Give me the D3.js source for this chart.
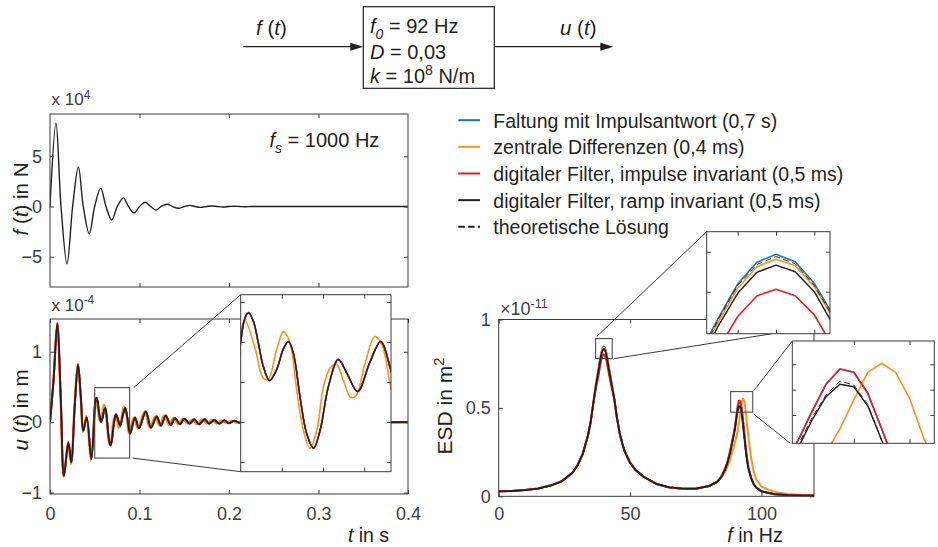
<!DOCTYPE html>
<html><head><meta charset="utf-8">
<script src="https://cdn.jsdelivr.net/npm/d3@7"></script>
<style>
body{margin:0;background:#fff;}
svg{font-family:"Liberation Sans",Arial,sans-serif;}
text{white-space:pre;}
</style></head><body>
<svg id="c" width="938" height="547"></svg>
<script>
// ---------------- DATA ----------------
// excitation force f(t), x 10^4 N
const forceT = [0,0.0067,0.0123,0.019,0.0253,0.0317,0.0372,0.0439,0.0499,0.0566,0.0626,0.0689,0.0752,0.0819,0.0877,0.0939,0.1,0.1065,0.1125,0.1184,0.124,0.131,0.137,0.1434,0.15,0.1564,0.162,0.168,0.175,0.181,0.187,0.193,0.2,0.206,0.212,0.218,0.225,0.235,0.4];
const forceV = [0,8.3,0,-5.7,0,3.93,0,-2.7,0,1.83,0,-1.34,0,0.86,0,-0.64,0,0.43,0,-0.34,0,0.23,0,-0.17,0,0.12,0,-0.085,0,0.06,0,-0.04,0,0.03,0,-0.02,0,0,0];

// response u(t), x 10^-4 m : filters / convolution / theory (coincide)
const uT = [0,0.004,0.0082,0.012,0.0156,0.0205,0.0238,0.0275,0.0313,0.0345,0.0372,0.041,0.0462,0.05,0.051,0.0519,0.0531,0.0543,0.0555,0.057,0.0587,0.0604,0.0616,0.0628,0.0644,0.066,0.0677,0.0693,0.0713,0.0737,0.0758,0.0784,0.0814,0.084,0.0865,0.0895,0.095,0.0994,0.107,0.1128,0.1192,0.124,0.1293,0.1348,0.1397,0.1453,0.15,0.156,0.1612,0.1665,0.1725,0.1777,0.1836,0.189,0.1947,0.2,0.2059,0.212,0.217,0.223,0.23,0.24,0.4];
const uV = [0,0.6,1.40,0.35,-0.76,-0.29,-0.57,0.2,0.82,0.35,-0.12,0.07,-0.52,0.20,0.318,0.347,0.302,0.193,0.077,0.007,0.06,0.168,0.202,0.143,-0.073,-0.257,-0.332,-0.24,-0.023,0.113,0.043,-0.048,0.10,0.202,0.057,-0.16,0.065,-0.085,0.15,-0.077,0.08,-0.048,0.094,-0.04,0.057,-0.028,0.047,-0.02,0.04,-0.03,0.04,-0.02,0.03,-0.02,0.025,-0.015,0.02,-0.01,0.012,-0.008,0.005,0,0];
// central differences
const uTcd = [0,0.0037,0.0079,0.0116,0.0152,0.0201,0.0234,0.0271,0.0309,0.0341,0.0367,0.0405,0.0457,0.05,0.051,0.0535,0.0555,0.0567,0.0587,0.0604,0.062,0.0636,0.0652,0.0668,0.0685,0.0701,0.0717,0.0732,0.0749,0.0767,0.078,0.0802,0.0826,0.0843,0.0865,0.0883,0.0937,0.0981,0.1056,0.1113,0.1176,0.1223,0.1275,0.1329,0.1377,0.1432,0.1478,0.1537,0.1588,0.164,0.1699,0.175,0.1808,0.186,0.1917,0.1968,0.2026,0.2086,0.2135,0.22,0.227,0.237,0.4];
const uVcd = [0,0.6,1.41,0.35,-0.78,-0.27,-0.60,0.2,0.83,0.35,-0.14,0.09,-0.55,0.243,0.31,0.168,0.018,0.013,0.16,0.252,0.193,-0.04,-0.24,-0.332,-0.24,-0.023,0.068,0.09,0.01,-0.077,-0.07,0.093,0.227,0.185,-0.032,-0.16,0.07,-0.09,0.15,-0.08,0.085,-0.05,0.095,-0.042,0.06,-0.03,0.05,-0.022,0.042,-0.03,0.04,-0.022,0.032,-0.02,0.026,-0.015,0.02,-0.01,0.012,-0.008,0.005,0,0];

// ESD, x 10^-11 m^2 : shared parts
const esdLowF = [0,5,10,15,20,24,28,30,32,34,35,36];
const esdLowV = [0.028,0.030,0.035,0.044,0.062,0.085,0.132,0.175,0.24,0.345,0.42,0.525];
const esdMidF = [44,45,46,47,48,50,52,55,60,65,70,75,80,83];
const esdMidV = [0.55,0.445,0.36,0.30,0.252,0.19,0.15,0.112,0.07,0.05,0.043,0.043,0.058,0.08];
const esdTailF = [105,110,115,120];
const esdTailV = [0.012,0.007,0.005,0.004];
// first peak (per series)
const peakAF = [37,38,38.5,39,39.5,40,40.5,41,41.5,42,43];
const peakABlue   = [0.635,0.722,0.7675,0.8096,0.8367,0.8467,0.8375,0.8105,0.77,0.725,0.64];
const peakAOrange = [0.632,0.717,0.763,0.8042,0.8313,0.8405,0.8325,0.8063,0.766,0.72,0.637];
const peakARed    = [0.61,0.685,0.729,0.769,0.7946,0.803,0.795,0.771,0.73,0.688,0.615];
const peakABlack  = [0.628,0.71,0.758,0.798,0.8242,0.8333,0.825,0.80,0.758,0.712,0.632];
const peakATheory = [0.632,0.717,0.766,0.8076,0.834,0.844,0.835,0.808,0.767,0.72,0.637];
// second peak (per series)
const peakBF = [84,85,86,87,88,89,89.5,90,90.5,91,91.5,92,92.5,93,93.5,94,94.5,95,96,97,98,100];
const peakBBlue   = [0.097,0.118,0.15,0.19,0.25,0.32,0.355,0.40,0.457,0.5105,0.5407,0.5342,0.4927,0.4227,0.35,0.275,0.215,0.165,0.107,0.071,0.05,0.028];
const peakBOrange = [0.095,0.112,0.135,0.165,0.205,0.255,0.28,0.31,0.34,0.375,0.4223,0.4797,0.534,0.552,0.534,0.483,0.406,0.34,0.225,0.14,0.095,0.055];
const peakBRed    = [0.097,0.118,0.15,0.19,0.25,0.32,0.355,0.40,0.457,0.5105,0.5407,0.5342,0.4927,0.4227,0.35,0.275,0.215,0.165,0.107,0.071,0.05,0.028];
const peakBBlack  = [0.095,0.115,0.145,0.185,0.24,0.31,0.345,0.385,0.44,0.486,0.5105,0.5057,0.468,0.40,0.33,0.26,0.205,0.16,0.105,0.07,0.05,0.028];
const peakBTheory = [0.095,0.115,0.145,0.185,0.24,0.31,0.35,0.39,0.445,0.4893,0.517,0.509,0.471,0.40,0.33,0.26,0.205,0.16,0.105,0.07,0.05,0.028];
const orangeTailF = [103,105,110,115,120];
const orangeTailV = [0.035,0.025,0.013,0.009,0.007];

// zoom windows (data coordinates)
const uZoomT = [0.05,0.089], uZoomV = [-0.51,0.49];
const uInsetT = [0.05,0.0865], uInsetV = [-0.449,0.4365];
const esdZoomAF = [36.9,43.2], esdZoomAV = [0.779,0.892];
const esdInsetAF = [38.19,41.41], esdInsetAV = [0.7475,0.875];
const esdZoomBF = [88.3,96.7], esdZoomBV = [0.476,0.592];
const esdInsetBF = [89.79,94.89], esdInsetBV = [0.394,0.596];

// ticks
const tTicks = [0,0.1,0.2,0.3,0.4];
const fTicks = [-5,0,5];
const uTicks = [-1,0,1];
const esdFTicks = [0,50,100];
const esdVTicks = [0,0.5,1];
const legendLabels = ["Faltung mit Impulsantwort (0,7 s)","zentrale Differenzen (0,4 ms)","digitaler Filter, impulse invariant (0,5 ms)","digitaler Filter, ramp invariant (0,5 ms)","theoretische Lösung"];

// ---------------- DRAW ----------------
const svg = d3.select("#c");
const INK = "#231f20", AX = "#3a3a3a", TK = "#3d3d3d";
const COL = {blue:"#1c75bc", orange:"#f7941d", red:"#e31e24", black:"#231f20"};
const defs = svg.append("defs");
let clipN = 0;

function rich(parent, x, y, parts, size, o = {}) {
  const t = parent.append("text").attr("x", x).attr("y", y).attr("font-size", size).attr("fill", o.fill || INK);
  if (o.anchor) t.attr("text-anchor", o.anchor);
  if (o.transform) t.attr("transform", o.transform);
  let shift = 0;
  parts.forEach(p => {
    const ts = t.append("tspan").text(p.t);
    const target = p.sub ? size * 0.3 : p.sup ? -size * 0.38 : 0;
    if (target !== shift) { ts.attr("dy", target - shift); shift = target; }
    if (p.sub || p.sup) ts.attr("font-size", size * 0.7);
    if (p.i) ts.attr("font-style", "italic");
  });
  return t;
}

function clipFor(x, y) {
  const id = "clip" + (clipN++);
  const [x0, x1] = x.range(), [y0, y1] = y.range();
  defs.append("clipPath").attr("id", id).append("rect")
    .attr("x", x0).attr("y", y1).attr("width", x1 - x0).attr("height", y0 - y1);
  return "url(#" + id + ")";
}

function frame(g, x, y, xt, yt, o = {}) {
  const [x0, x1] = x.range(), [y0, y1] = y.range();
  const style = s => {
    s.select(".domain").remove();
    s.selectAll(".tick line").attr("stroke", AX).attr("stroke-width", 1);
    s.selectAll("text").attr("font-size", 18).attr("fill", TK).attr("font-family", null);
    s.attr("font-family", null);
  };
  g.append("g").attr("transform", `translate(0,${y0})`)
    .call(d3.axisBottom(x).tickValues(xt).tickSizeInner(-4).tickSizeOuter(0).tickPadding(o.xpad || 13).tickFormat(o.xfmt || (() => ""))).call(style);
  g.append("g").attr("transform", `translate(0,${y1})`)
    .call(d3.axisTop(x).tickValues(xt).tickSizeInner(-4).tickSizeOuter(0).tickFormat(() => "")).call(style);
  g.append("g").attr("transform", `translate(${x0},0)`)
    .call(d3.axisLeft(y).tickValues(yt).tickSizeInner(-4).tickSizeOuter(0).tickPadding(8).tickFormat(o.yfmt || (() => ""))).call(style);
  g.append("g").attr("transform", `translate(${x1},0)`)
    .call(d3.axisRight(y).tickValues(yt).tickSizeInner(-4).tickSizeOuter(0).tickFormat(() => "")).call(style);
  g.append("rect").attr("x", x0).attr("y", y1).attr("width", x1 - x0).attr("height", y0 - y1)
    .attr("fill", "none").attr("stroke", AX).attr("stroke-width", 1);
}

function pairs(a, b) { return a.map((v, i) => [v, b[i]]); }
function cat(...segs) { return [].concat(...segs); }

// ---------- block diagram ----------
const bd = svg.append("g");
bd.append("rect").attr("x", 363.3).attr("y", 6.7).attr("width", 131).attr("height", 81.6)
  .attr("fill", "none").attr("stroke", INK).attr("stroke-width", 1.2);
function arrow(xa, xb, yy) {
  bd.append("line").attr("x1", xa).attr("x2", xb - 10).attr("y1", yy).attr("y2", yy).attr("stroke", INK).attr("stroke-width", 1.2);
  bd.append("path").attr("d", `M${xb},${yy} L${xb - 13},${yy - 4} L${xb - 13},${yy + 4} Z`).attr("fill", INK);
}
arrow(243.3, 363.3, 46.7);
arrow(494.3, 613.3, 46.7);
rich(bd, 256, 35, [{t:"f", i:1}, {t:" ("}, {t:"t", i:1}, {t:")"}], 20.5);
rich(bd, 560, 35, [{t:"u", i:1}, {t:" ("}, {t:"t", i:1}, {t:")"}], 20.5);
rich(bd, 370, 32.5, [{t:"f", i:1}, {t:"0", i:1, sub:1}, {t:" = 92 Hz"}], 20);
rich(bd, 370, 58.5, [{t:"D", i:1}, {t:" = 0,03"}], 20);
rich(bd, 370, 82.5, [{t:"k", i:1}, {t:" = 10"}, {t:"8", sup:1}, {t:" N/m"}], 20);

// ---------- top-left: f(t) ----------
const xT = d3.scaleLinear([0, 0.4], [50, 408]);
const yF = d3.scaleLinear([-8, 9.2], [287, 114]);
const gF = svg.append("g");
gF.append("path").datum(pairs(forceT, forceV)).attr("clip-path", clipFor(xT, yF))
  .attr("d", d3.line().x(d => xT(d[0])).y(d => yF(d[1])).curve(d3.curveCatmullRom.alpha(0.5)))
  .attr("fill", "none").attr("stroke", INK).attr("stroke-width", 1.4);
frame(gF, xT, yF, [0.1, 0.2, 0.3], fTicks, {yfmt: d3.format("d")});
rich(gF, 51.5, 105, [{t:"x 10"}, {t:"4", sup:1}], 17, {fill: TK});
rich(gF, 269.5, 146.7, [{t:"f", i:1}, {t:"s", i:1, sub:1}, {t:" = 1000 Hz"}], 20);
rich(gF, 0, 0, [{t:"f", i:1}, {t:" ("}, {t:"t", i:1}, {t:") in N"}], 20.5, {anchor:"middle", transform:"translate(28,199) rotate(-90)"});

// ---------- bottom-left: u(t) ----------
const yU = d3.scaleLinear([-1.02, 1.465], [494, 319]);
const gU = svg.append("g");
const uClip = clipFor(xT, yU);
function drawU(g, x, y, clip, w) {
  const ln = d3.line().x(d => x(d[0])).y(d => y(d[1])).curve(d3.curveCatmullRom.alpha(0.5));
  const main = pairs(uT, uV), cd = pairs(uTcd, uVcd);
  [[main, COL.blue, w], [cd, COL.orange, w], [main, COL.red, w], [main, COL.black, w * 0.85]].forEach(([d, c, sw]) => {
    g.append("path").datum(d).attr("clip-path", clip).attr("d", ln)
      .attr("fill", "none").attr("stroke", c).attr("stroke-width", sw).attr("stroke-linejoin", "round");
  });
}
drawU(gU, xT, yU, uClip, 2);
frame(gU, xT, yU, tTicks, uTicks, {xfmt: d => d === 0 ? "0" : d3.format(".1f")(d), yfmt: d3.format("d"), xpad: 13});
rich(gU, 51.5, 310.7, [{t:"x 10"}, {t:"-4", sup:1}], 17, {fill: TK});
rich(gU, 0, 0, [{t:"u", i:1}, {t:" ("}, {t:"t", i:1}, {t:") in m"}], 20.5, {anchor:"middle", transform:"translate(28,410) rotate(-90)"});
rich(gU, 368.5, 542, [{t:"t", i:1}, {t:" in s"}], 19.5, {anchor:"middle"});

// zoom rectangle and connectors
gU.append("rect").attr("x", xT(uZoomT[0])).attr("y", yU(uZoomV[1]))
  .attr("width", xT(uZoomT[1]) - xT(uZoomT[0])).attr("height", yU(uZoomV[0]) - yU(uZoomV[1]))
  .attr("fill", "none").attr("stroke", AX).attr("stroke-width", 1);
const xIU = d3.scaleLinear(uInsetT, [240.7, 391]);
const yIU = d3.scaleLinear(uInsetV, [471.7, 294.7]);
gU.append("line").attr("x1", xT(uZoomT[1]) + 4).attr("y1", yU(uZoomV[1])).attr("x2", xIU.range()[0]).attr("y2", yIU.range()[1]).attr("stroke", AX);
gU.append("line").attr("x1", xT(uZoomT[1]) + 3).attr("y1", yU(uZoomV[0])).attr("x2", xIU.range()[0]).attr("y2", yIU.range()[0]).attr("stroke", AX);
// inset
const gUI = svg.append("g");
gUI.append("rect").attr("x", 240.7).attr("y", 294.7).attr("width", 391 - 240.7).attr("height", 471.7 - 294.7).attr("fill", "#fff");
drawU(gUI, xIU, yIU, clipFor(xIU, yIU), 1.6);
frame(gUI, xIU, yIU, [0.06, 0.07, 0.08], [-0.4, -0.2, 0, 0.2, 0.4]);

// ---------- right: ESD ----------
const xE = d3.scaleLinear([0, 120], [498.7, 814]);
const yE = d3.scaleLinear([0, 1], [496.3, 319.5]);
const seriesESD = [
  {c: COL.blue,   w: 2,   dash: null, d: cat(pairs(esdLowF, esdLowV), pairs(peakAF, peakABlue),   pairs(esdMidF, esdMidV), pairs(peakBF, peakBBlue),   pairs(esdTailF, esdTailV))},
  {c: COL.orange, w: 2,   dash: null, d: cat(pairs(esdLowF, esdLowV), pairs(peakAF, peakAOrange), pairs(esdMidF, esdMidV), pairs(peakBF, peakBOrange), pairs(orangeTailF, orangeTailV))},
  {c: COL.red,    w: 2,   dash: null, d: cat(pairs(esdLowF, esdLowV), pairs(peakAF, peakARed),    pairs(esdMidF, esdMidV), pairs(peakBF, peakBRed),    pairs(esdTailF, esdTailV))},
  {c: COL.black,  w: 1.8, dash: null, d: cat(pairs(esdLowF, esdLowV), pairs(peakAF, peakABlack),  pairs(esdMidF, esdMidV), pairs(peakBF, peakBBlack),  pairs(esdTailF, esdTailV))},
  {c: COL.black,  w: 1.2, dash: "6,3.5", d: cat(pairs(esdLowF, esdLowV), pairs(peakAF, peakATheory), pairs(esdMidF, esdMidV), pairs(peakBF, peakBTheory), pairs(esdTailF, esdTailV))}
];
function drawESD(g, x, y, clip, scaleW, withDash) {
  const ln = d3.line().x(d => x(d[0])).y(d => y(d[1]));
  seriesESD.forEach(s => {
    if (s.dash && !withDash) return;
    g.append("path").datum(s.d).attr("clip-path", clip).attr("d", ln)
      .attr("fill", "none").attr("stroke", s.c).attr("stroke-width", s.w * scaleW)
      .attr("stroke-dasharray", s.dash).attr("stroke-linejoin", "round");
  });
}
const gE = svg.append("g");
drawESD(gE, xE, yE, clipFor(xE, yE), 1, false);
frame(gE, xE, yE, esdFTicks, esdVTicks, {xfmt: d3.format("d"), yfmt: d => d === 0 ? "0" : d === 1 ? "1" : "0.5", xpad: 11});
rich(gE, 500, 315, [{t:"×10"}, {t:"-11", sup:1}], 18, {fill: TK});
rich(gE, 0, 0, [{t:"ESD in m"}, {t:"2", sup:1}], 21, {anchor:"middle", transform:"translate(452,406) rotate(-90)"});
rich(gE, 755, 542, [{t:"f", i:1}, {t:" in Hz"}], 19.5, {anchor:"middle"});

const xA = d3.scaleLinear(esdInsetAF, [706.7, 830]);
const yA = d3.scaleLinear(esdInsetAV, [333.7, 231.7]);
const xB = d3.scaleLinear(esdInsetBF, [792.3, 934.3]);
const yB = d3.scaleLinear(esdInsetBV, [443.3, 341]);
function zoomRect(g, fz, vz) {
  g.append("rect").attr("x", xE(fz[0])).attr("y", yE(vz[1])).attr("width", xE(fz[1]) - xE(fz[0])).attr("height", yE(vz[0]) - yE(vz[1]))
    .attr("fill", "none").attr("stroke", AX).attr("stroke-width", 1);
}
zoomRect(gE, esdZoomAF, esdZoomAV);
zoomRect(gE, esdZoomBF, esdZoomBV);
const con = (x1, y1, x2, y2) => gE.append("line").attr("x1", x1).attr("y1", y1).attr("x2", x2).attr("y2", y2).attr("stroke", AX);
con(xE(esdZoomAF[0]) + 1, yE(esdZoomAV[1]) - 2, xA.range()[0], yA.range()[1]);
con(xE(esdZoomAF[1]) + 2, yE(esdZoomAV[0]), xA(39.9), yA.range()[0]);
con(xE(esdZoomBF[1]) + 1, yE(esdZoomBV[1]) - 1, xB.range()[0], yB.range()[1]);
con(xE(esdZoomBF[1]) + 1, yE(esdZoomBV[0]) + 2, xB.range()[0] - 2, yB.range()[0]);

function inset(x, y, xt, yt) {
  const g = svg.append("g");
  const [x0, x1] = x.range(), [y0, y1] = y.range();
  g.append("rect").attr("x", x0).attr("y", y1).attr("width", x1 - x0).attr("height", y0 - y1).attr("fill", "#fff");
  drawESD(g, x, y, clipFor(x, y), 0.8, true);
  frame(g, x, y, xt, yt);
}
inset(xA, yA, [39, 40, 41], [0.8, 0.85]);
inset(xB, yB, [92, 94], [0.45, 0.5, 0.55]);

// ---------- legend ----------
const gL = svg.append("g");
const legCols = [COL.blue, COL.orange, COL.red, COL.black, COL.black];
legendLabels.forEach((lab, i) => {
  const yb = 127.7 + i * 26.65;
  gL.append("line").attr("x1", 458.3).attr("x2", 480).attr("y1", yb - 7.5).attr("y2", yb - 7.5)
    .attr("stroke", legCols[i]).attr("stroke-width", 2).attr("stroke-dasharray", i === 4 ? "6.5,3.3" : null);
  gL.append("text").attr("x", 493.3).attr("y", yb).attr("font-size", 19.5).attr("fill", INK).text(lab);
});
</script>
</body></html>
